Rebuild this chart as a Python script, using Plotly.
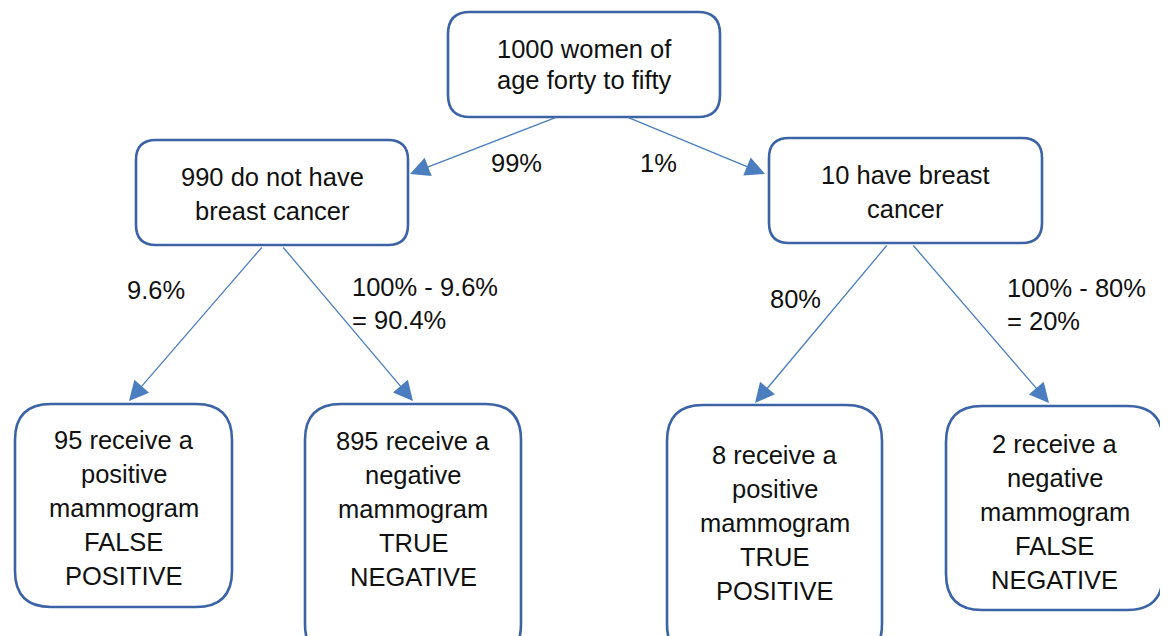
import plotly.graph_objects as go

# ---------------- data ----------------
node_labels = [
    "1000 women of\nage forty to fifty",
    "990 do not have\nbreast cancer",
    "10 have breast\ncancer",
    "95 receive a\npositive\nmammogram\nFALSE\nPOSITIVE",
    "895 receive a\nnegative\nmammogram\nTRUE\nNEGATIVE",
    "8 receive a\npositive\nmammogram\nTRUE\nPOSITIVE",
    "2 receive a\nnegative\nmammogram\nFALSE\nNEGATIVE",
]
edge_from = [0, 0, 1, 1, 2, 2]
edge_to = [1, 2, 3, 4, 5, 6]
edge_labels = ["99%", "1%", "9.6%", "100% - 9.6%\n= 90.4%", "80%", "100% - 80%\n= 20%"]

# ---------------- layout (pixel coords, y down) ----------------
# boxes: x0, y0, x1, y1, corner radius
boxes = [
    (448, 12, 720, 117, 22),
    (136, 140, 408, 245, 20),
    (769, 138, 1042, 243, 20),
    (15, 404, 232, 607, 36),
    (305, 404, 521, 660, 36),
    (667, 405, 882, 660, 36),
    (946, 406, 1163, 610, 36),
]
# first-line baseline and line step for each node text
text_base = [57, 185, 183, 448, 449, 463, 452]
text_step = [31, 34, 34, 34, 34, 34, 34]
# arrows: tail (x,y) -> head (x,y)
arrow_tail = [(557, 117), (627, 117), (263, 246), (282, 246), (888, 244), (912, 244)]
arrow_head = [(410, 174), (765, 174), (129, 401), (413, 401), (755, 403), (1049, 403)]
# edge label positions: x, first baseline, anchor
edge_pos = [(516, 171, "center"), (658, 171, "center"), (156, 298, "center"),
            (350, 295, "left"), (795, 307, "center"), (1005, 296, "left")]

BOX_COLOR = "#3B63A6"
ARROW_COLOR = "#4A7EBF"
TEXT_COLOR = "#111111"
FONT = "Liberation Sans, Arial, Helvetica, sans-serif"
FS = 25.5
PAGE_OFF = 8  # default body margin of the html page


def rounded_path(x0, y0, x1, y1, r):
    return (f"M {x0 + r},{y0} L {x1 - r},{y0} Q {x1},{y0} {x1},{y0 + r} "
            f"L {x1},{y1 - r} Q {x1},{y1} {x1 - r},{y1} "
            f"L {x0 + r},{y1} Q {x0},{y1} {x0},{y1 - r} "
            f"L {x0},{y0 + r} Q {x0},{y0} {x0 + r},{y0} Z")


fig = go.Figure()
fig.add_trace(go.Scatter(x=[PAGE_OFF, 1168], y=[PAGE_OFF, 636], mode="markers",
                         marker=dict(opacity=0), hoverinfo="skip", showlegend=False))

shapes = []
for (x0, y0, x1, y1, r) in boxes:
    shapes.append(dict(type="path", path=rounded_path(x0, y0, x1, y1, r), xref="x", yref="y",
                       line=dict(color=BOX_COLOR, width=2.6), fillcolor="white", layer="above"))

annotations = []
# node texts
for i, lab in enumerate(node_labels):
    x0, y0, x1, y1, r = boxes[i]
    cx = (x0 + x1) / 2
    for j, line in enumerate(lab.split("\n")):
        base = text_base[i] + j * text_step[i]
        annotations.append(dict(x=cx, y=base - 8.5, xref="x", yref="y", text=line,
                                showarrow=False, xanchor="center", yanchor="middle",
                                font=dict(family=FONT, size=FS, color=TEXT_COLOR)))

# arrows
for k in range(len(edge_from)):
    tx, ty = arrow_tail[k]
    hx, hy = arrow_head[k]
    annotations.append(dict(x=hx, y=hy, ax=tx, ay=ty, xref="x", yref="y", axref="x", ayref="y",
                            text="", showarrow=True, arrowhead=2, arrowsize=3, arrowwidth=1.3,
                            arrowcolor=ARROW_COLOR, standoff=0, startstandoff=0))

# edge labels
for k, lab in enumerate(edge_labels):
    ex, eb, anc = edge_pos[k]
    for j, line in enumerate(lab.split("\n")):
        annotations.append(dict(x=ex, y=eb + j * 33 - 8.5, xref="x", yref="y", text=line,
                                showarrow=False, xanchor=anc, yanchor="middle",
                                font=dict(family=FONT, size=FS, color=TEXT_COLOR)))

fig.update_layout(
    width=1168, height=636,
    margin=dict(l=0, r=0, t=0, b=0),
    paper_bgcolor="white", plot_bgcolor="white",
    xaxis=dict(range=[PAGE_OFF, 1168 + PAGE_OFF], visible=False, fixedrange=True),
    yaxis=dict(range=[636 + PAGE_OFF, PAGE_OFF], visible=False, fixedrange=True),
    shapes=shapes, annotations=annotations, showlegend=False,
)

fig.write_html("out.html", config={"displayModeBar": False})
